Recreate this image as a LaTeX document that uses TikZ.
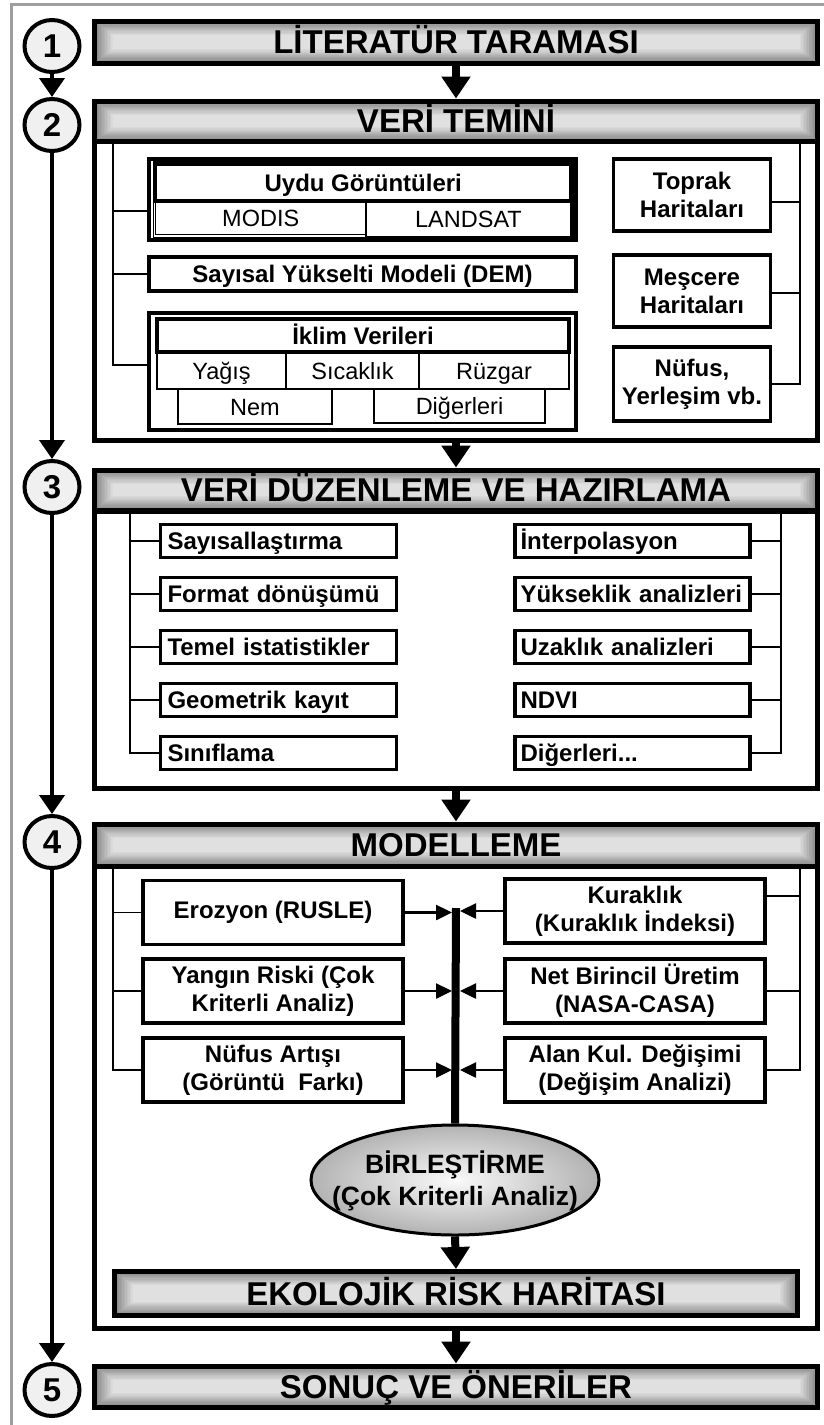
\documentclass[tikz,border=0pt]{standalone}
\usepackage{fontspec}
\setmainfont{Liberation Sans}
\usetikzlibrary{arrows.meta,shapes.geometric}
\newcommand\fsTitle{\fontsize{33}{36}\selectfont\bfseries}
\newcommand\fsB{\fontsize{24}{28}\selectfont\bfseries}
\newcommand\fsR{\fontsize{23.5}{28}\selectfont}
\newcommand\fsNum{\fontsize{33}{33}\selectfont\bfseries}
\newcommand\fsEll{\fontsize{26.5}{32}\selectfont\bfseries}
\begin{document}
\begin{tikzpicture}[x=1pt,y=-1pt,
  tbar/.style={draw, line width=5pt, minimum width=723pt, minimum height=42pt, inner sep=0pt, font=\fsTitle,
    text height=23.6pt, text depth=0pt,
    path picture={
      \foreach \i in {0,...,12} {
        \pgfmathsetmacro\shd{48-3*\i}
        \fill[black!\shd] ([xshift=\i*1.5pt, yshift=-\i*1.15pt]path picture bounding box.north west) rectangle ([xshift=-\i*1.5pt, yshift=\i*1.15pt]path picture bounding box.south east);
      }
    }},
  sbox/.style={draw, line width=5pt, minimum width=723pt, inner sep=0pt},
  num/.style={draw, ellipse, line width=4pt, fill=gray!12, minimum width=55pt, minimum height=52pt, inner sep=0pt, font=\fsNum},
  oneline/.style={text height=17.6pt, text depth=0.4pt},
  ibox/.style={draw, line width=3.5pt, inner sep=0pt, font=\fsB, align=center},
  obox/.style={draw, line width=4pt, inner sep=0pt},
  cell/.style={draw, line width=1.5pt, inner sep=0pt, font=\fsR, oneline},
  lbox/.style={draw, line width=3.5pt, inner xsep=7pt, inner ysep=0pt, text width=222pt, align=left, minimum height=33pt, font=\fsB, oneline},
  rbox/.style={draw, line width=3.5pt, inner xsep=5.5pt, inner ysep=0pt, text width=224pt, align=left, minimum height=33pt, font=\fsB, oneline},
  mbox/.style={draw, line width=3.5pt, inner sep=0pt, minimum width=260pt, minimum height=64pt, align=center, font=\fsB},
  brk/.style={line width=1.5pt},
  bigarrow/.style={line width=8pt, -{Triangle[length=22pt,width=28pt]}},
  larrow/.style={line width=4pt, -{Triangle[length=19pt,width=25pt]}},
  sarrow/.style={line width=2.5pt, -{Triangle[length=16pt,width=15pt]}, shorten >=4pt},
]
\useasboundingbox (0,0) rectangle (824,1425);
\fill[white] (0,0) rectangle (824,1425);
\draw[gray!75, line width=3pt] (11,1440) -- (11,4) -- (840,4);

% section boxes
\node[sbox, minimum height=299pt] (box2) at (456,290.5) {};
\node[sbox, minimum height=277pt] (box3) at (456,649.5) {};
\node[sbox, minimum height=462pt] (box4) at (456,1097) {};

% title bars
\node[tbar] (b1) at (456,42) {LİTERATÜR TARAMASI};
\node[tbar, minimum height=40pt] (b2) at (456,121) {VERİ TEMİNİ};
\node[tbar, minimum height=40pt] (b3) at (456,490) {VERİ DÜZENLEME VE HAZIRLAMA};
\node[tbar] (b4) at (456,845) {MODELLEME};
\node[tbar, minimum height=41pt] (b5) at (456,1386.5) {SONUÇ VE ÖNERİLER};

% step circles
\node[num] (c1) at (52,46) {1};
\node[num] (c2) at (52,125) {2};
\node[num] (c3) at (52,487) {3};
\node[num] (c4) at (52,842) {4};
\node[num] (c5) at (52,1390) {5};
\draw[larrow] (c1.south) -- (c2.north);
\draw[larrow] (c2.south) -- (c3.north);
\draw[larrow] (c3.south) -- (c4.north);
\draw[larrow] (c4.south) -- (c5.north);

% main flow arrows
\draw[bigarrow] (b1.south) -- (b2.north);
\draw[bigarrow] (box2.south) -- (b3.north);
\draw[bigarrow] (box3.south) -- (b4.north);
\draw[bigarrow] (box4.south) -- (b5.north);

% ---------- section 2 ----------
\node[obox, minimum width=427pt, minimum height=81pt] (uydu) at (362.5,199.5) {};
\node[draw, line width=1.5pt, inner sep=0pt, minimum width=419.5pt, minimum height=75.5pt] (uyduin) at (363.25,199.75) {};
\node[ibox, oneline, minimum width=415.5pt, minimum height=36.5pt] (uhead) at (363.25,182.75) {Uydu Görüntüleri};
\node[cell, minimum width=210.5pt, minimum height=33.5pt] (modis) at (260.75,217.75) {MODIS};
\node[cell, minimum width=205pt, minimum height=35.5pt] (landsat) at (468.5,218.75) {LANDSAT};
\node[ibox, oneline, minimum width=427pt, minimum height=34pt] (dem) at (362.5,274) {Sayısal Yükselti Modeli (DEM)};
\node[obox, minimum width=427pt, minimum height=117pt] (iklim) at (362.5,371.5) {};
\node[ibox, oneline, minimum width=412pt, minimum height=33pt] (ihead) at (363,335.5) {İklim Verileri};
\node[cell, minimum width=129pt, minimum height=37pt] (yagis) at (221.5,370.5) {Yağış};
\node[cell, minimum width=133pt, minimum height=37pt] (sicak) at (352.5,370.5) {Sıcaklık};
\node[cell, minimum width=150pt, minimum height=37pt] (ruzgar) at (494,370.5) {Rüzgar};
\node[cell, minimum width=154pt, minimum height=35pt] (nem) at (255,406.5) {Nem};
\node[cell, minimum width=171pt, minimum height=34pt] (diger) at (459.5,406) {Diğerleri};
\node[ibox, minimum width=157pt, minimum height=72pt] (toprak) at (692,195) {Toprak\\Haritaları};
\node[ibox, minimum width=157pt, minimum height=72pt] (mescere) at (692,291) {Meşcere\\Haritaları};
\node[ibox, minimum width=157pt, minimum height=74pt] (nufus) at (692,384) {Nüfus,\\Yerleşim vb.};
\coordinate (L2) at (113,141);
\coordinate (R2) at (800,141);
\draw[brk] (L2) |- ([yshift=6.5pt]iklim.west);
\draw[brk] (L2) |- ([yshift=-11.5pt]uydu.west);
\draw[brk] (L2) |- (dem.west);
\draw[brk] (R2) |- (nufus.east);
\draw[brk] (R2) |- ([yshift=-7pt]toprak.east);
\draw[brk] (R2) |- ([yshift=-2pt]mescere.east);

% ---------- section 3 ----------
\node[lbox] (s1) at (278.5,541) {Sayısallaştırma};
\node[lbox] (s2) at (278.5,594) {Format dönüşümü};
\node[lbox] (s3) at (278.5,647) {Temel istatistikler};
\node[lbox] (s4) at (278.5,700) {Geometrik kayıt};
\node[lbox] (s5) at (278.5,753) {Sınıflama};
\node[rbox] (r1) at (632.5,541) {İnterpolasyon};
\node[rbox] (r2) at (632.5,594) {Yükseklik analizleri};
\node[rbox] (r3) at (632.5,647) {Uzaklık analizleri};
\node[rbox] (r4) at (632.5,700) {NDVI};
\node[rbox] (r5) at (632.5,753) {Diğerleri...};
\coordinate (L3) at (130,511);
\coordinate (R3) at (781,511);
\foreach \k in {1,...,5} {
  \draw[brk] (L3) |- (s\k.west);
  \draw[brk] (R3) |- (r\k.east);
}

% ---------- section 4 ----------
\node[mbox] (m1) at (273,912.5) {Erozyon (RUSLE)};
\node[mbox] (m2) at (273,991) {Yangın Riski (Çok\\Kriterli Analiz)};
\node[mbox] (m3) at (273,1070) {Nüfus Artışı\\(Görüntü~ Farkı)};
\node[mbox] (n1) at (635,911) {Kuraklık\\(Kuraklık İndeksi)};
\node[mbox] (n2) at (635,991) {Net Birincil Üretim\\(NASA-CASA)};
\node[mbox] (n3) at (635,1070) {Alan Kul. Değişimi\\(Değişim Analizi)};
\coordinate (L4) at (113,866);
\coordinate (R4) at (800,866);
\draw[brk] (L4) |- (m3.west);
\draw[brk] (L4) |- (m1.west);
\draw[brk] (L4) |- (m2.west);
\draw[brk] (R4) |- (n3.east);
\draw[brk] (R4) |- ([yshift=15pt]n1.east);
\draw[brk] (R4) |- (n2.east);

\node[draw, ellipse, line width=3pt, shading=radial, inner color=gray!4, outer color=gray!60, minimum width=288pt, minimum height=110pt, inner sep=0pt] (ell) at (455,1180) {};
\node[align=center, font=\fsEll, inner sep=0pt] (ellt) at (455,1181) {BİRLEŞTİRME\\(Çok Kriterli Analiz)};
\coordinate (ctop) at (456,908);
\draw[line width=8pt] (ctop) -- (ell.north);
\foreach \k in {1,2,3} {
  \draw[sarrow] (m\k.east) -- (m\k.east -| ctop);
  \draw[sarrow] (n\k.west) -- (n\k.west -| ctop);
}
\node[tbar, minimum width=683pt, minimum height=44pt] (eko) at (456,1293.5) {EKOLOJİK RİSK HARİTASI};
\draw[bigarrow] (ell.south) -- (eko.north);
\end{tikzpicture}
\end{document}
